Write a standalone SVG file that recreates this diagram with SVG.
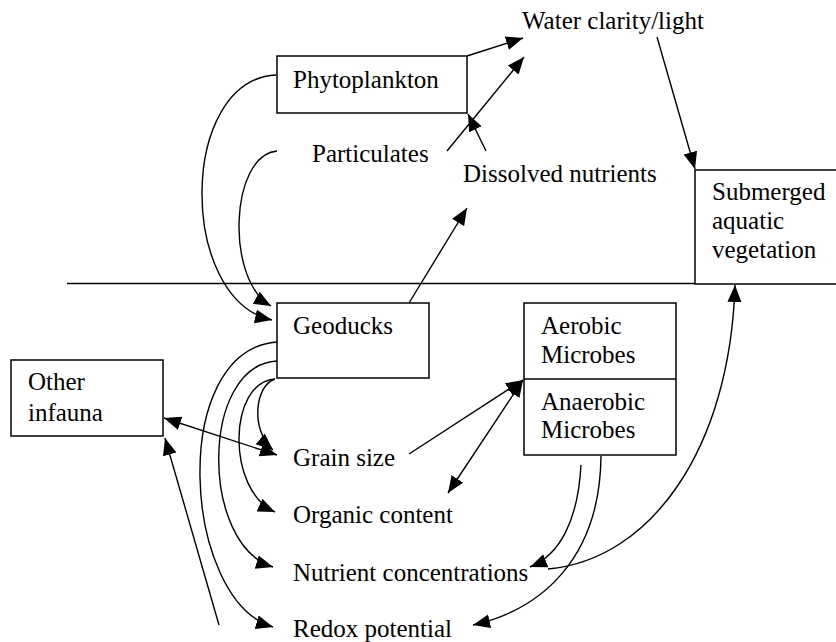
<svg xmlns="http://www.w3.org/2000/svg" width="836" height="642" viewBox="0 0 836 642">
<style>
  .box { fill: #fff; stroke: #000; stroke-width: 1.5; }
  .lbl { font-family: "Liberation Serif", "Times New Roman", serif; font-size: 25px; fill: #000; }
  .c { fill: none; stroke: #000; stroke-width: 1.4; }
  .a { marker-end: url(#ah); }
  .aa { marker-end: url(#ah); marker-start: url(#ah); }
</style>
<defs>
  <marker id="ah" markerUnits="userSpaceOnUse" markerWidth="19" markerHeight="16" refX="17" refY="7" orient="auto-start-reverse">
    <path d="M0,0 L17,7 L0,14 z" fill="#000"/>
  </marker>
</defs>
<rect width="836" height="642" fill="#fff"/>

<g id="surface-line">
  <line x1="67" y1="283.5" x2="695" y2="283.5" stroke="#000" stroke-width="1.5"/>
</g>

<g id="phytoplankton">
  <rect class="box" x="277" y="56" width="190" height="57"/>
  <text class="lbl" x="293" y="88">Phytoplankton</text>
</g>
<g id="water-clarity">
  <text class="lbl" x="522" y="29">Water clarity/light</text>
</g>
<g id="particulates">
  <text class="lbl" x="312" y="162">Particulates</text>
</g>
<g id="dissolved-nutrients">
  <text class="lbl" x="463" y="182">Dissolved nutrients</text>
</g>
<g id="sav">
  <rect class="box" x="695" y="170" width="150" height="114"/>
  <text class="lbl" x="712" y="200">Submerged</text>
  <text class="lbl" x="712" y="229">aquatic</text>
  <text class="lbl" x="712" y="258">vegetation</text>
</g>
<g id="geoducks">
  <rect class="box" x="277" y="303" width="152" height="75"/>
  <text class="lbl" x="293" y="334">Geoducks</text>
</g>
<g id="microbes">
  <rect class="box" x="524" y="303" width="152" height="152"/>
  <line x1="524" y1="379" x2="676" y2="379" stroke="#000" stroke-width="1.5"/>
  <text class="lbl" x="541" y="334">Aerobic</text>
  <text class="lbl" x="541" y="363">Microbes</text>
  <text class="lbl" x="541" y="410">Anaerobic</text>
  <text class="lbl" x="541" y="438">Microbes</text>
</g>
<g id="other-infauna">
  <rect class="box" x="11" y="360" width="152" height="76"/>
  <text class="lbl" x="28" y="390">Other</text>
  <text class="lbl" x="28" y="421">infauna</text>
</g>
<g id="grain-size"><text class="lbl" x="293" y="466">Grain size</text></g>
<g id="organic-content"><text class="lbl" x="293" y="523">Organic content</text></g>
<g id="nutrient-concentrations"><text class="lbl" x="293" y="581">Nutrient concentrations</text></g>
<g id="redox-potential"><text class="lbl" x="293" y="637">Redox potential</text></g>

<g id="connectors">
  <line class="c a" x1="467" y1="56" x2="523" y2="38"/>
  <line class="c a" x1="447" y1="151" x2="524" y2="57"/>
  <line class="c a" x1="486" y1="151" x2="468" y2="114"/>
  <line class="c a" x1="657" y1="37" x2="695" y2="169"/>
  <line class="c a" x1="409" y1="303" x2="467" y2="208"/>
  <path class="c a" d="M276,75 C178,80 178,300 272,320"/>
  <path class="c a" d="M277,151 C230,155 225,280 271,306"/>
  <path class="c a" d="M277,342 C168,350 182,600 273,627"/>
  <path class="c a" d="M277,361 C200,365 200,545 273,567"/>
  <path class="c a" d="M275,379 C228,382 226,490 275,512"/>
  <path class="c a" d="M275,379 C255,385 250,430 273,450"/>
  <line class="c aa" x1="164" y1="418" x2="277" y2="455"/>
  <line class="c a" x1="219" y1="625" x2="165" y2="438"/>
  <line class="c a" x1="409" y1="454" x2="523" y2="380"/>
  <line class="c aa" x1="448" y1="493" x2="523" y2="380"/>
  <path class="c a" d="M581,465 C578,520 560,555 530,567"/>
  <path class="c a" d="M601,456 C600,560 540,610 473,625"/>
  <path class="c a" d="M548,569 C650,560 730,450 735,285"/>
</g>
</svg>
